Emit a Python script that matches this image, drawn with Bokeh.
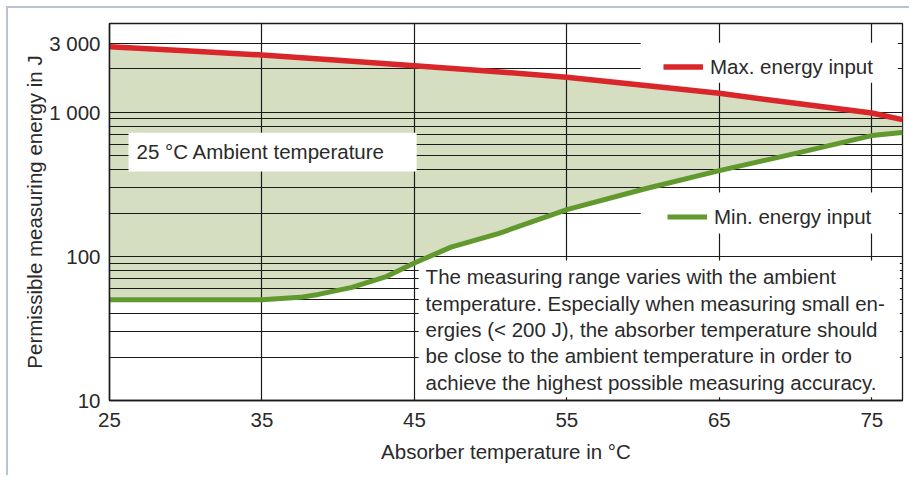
from bokeh.plotting import figure
from bokeh.models import Range1d, FixedTicker, BoxAnnotation, Label, Legend, LegendItem
from bokeh.embed import file_html
from bokeh.resources import INLINE

# ---------------- data ----------------
max_temp = [25, 30, 35, 40, 45, 50, 55, 60, 65, 70, 75, 77]
max_energy = [2850, 2680, 2500, 2300, 2110, 1930, 1750, 1540, 1355, 1155, 990, 890]

min_temp = [25, 30, 35, 37.5, 38.7, 40.9, 43.1, 45, 47.4, 50.5, 55, 60.2, 65, 70.3, 75, 77]
min_energy = [50, 50, 50, 52, 54.5, 61, 72, 90, 116, 144, 211, 296, 394, 528, 690, 725]

x_ticks = [25, 35, 45, 55, 65, 75]
y_ticks = [10, 100, 1000, 3000]
y_tick_labels = ["10", "100", "1 000", "3 000"]
y_minor_grid = [20, 30, 40, 50, 60, 70, 80, 90, 200, 300, 400, 500, 600, 700, 800, 900, 2000]

note_lines = [
    "The measuring range varies with the ambient",
    "temperature. Especially when measuring small en-",
    "ergies (< 200 J), the absorber temperature should",
    "be close to the ambient temperature in order to",
    "achieve the highest possible measuring accuracy.",
]

# ---------------- styling ----------------
FONT = "Liberation Sans"
FS = "20.5px"
TXT = "#2a2a2a"
GRID = "#1a1a1a"
RED = "#d9262b"
GREEN = "#61992f"
FILL = "#d5dec1"

# helpers: reference pixel -> data coordinate (frame geometry of the reference)
def dx(px):
    return 25 + (px - 109) / 15.24

def dy(px):
    return 10 ** (1 + (400.3 - px) / 144.3)

p = figure(width=903, height=469,
           x_range=Range1d(25, dx(901.7)), y_range=Range1d(10, dy(22.7)),
           y_axis_type="log", output_backend="svg", toolbar_location=None,
           min_border_left=101, min_border_right=9, min_border_top=15, min_border_bottom=77,
           background_fill_color="white", border_fill_color="white")
p.styles = {"position": "relative", "left": "8px", "top": "8px",
            "box-shadow": "-2px -2px 0 0 #b9c3d4"}

xt = FixedTicker(ticks=x_ticks)
yt = FixedTicker(ticks=y_ticks, minor_ticks=y_minor_grid)
p.xaxis.ticker = xt
p.xgrid.ticker = xt
p.yaxis.ticker = yt
p.ygrid.ticker = yt
p.yaxis.major_label_overrides = dict(zip(y_ticks, y_tick_labels))

p.grid.grid_line_color = GRID
p.grid.grid_line_width = 1.2
p.ygrid.minor_grid_line_color = GRID
p.ygrid.minor_grid_line_width = 1.2
p.grid.level = "underlay"

p.outline_line_color = GRID
p.outline_line_width = 1.3

for ax in (p.xaxis, p.yaxis):
    ax.axis_line_color = GRID
    ax.axis_line_width = 1.5
    ax.major_tick_line_color = None
    ax.minor_tick_line_color = None
    ax.major_label_text_font = FONT
    ax.major_label_text_font_size = FS
    ax.major_label_text_color = TXT
    ax.axis_label_text_font = FONT
    ax.axis_label_text_font_size = FS
    ax.axis_label_text_color = TXT
    ax.axis_label_text_font_style = "normal"

p.xaxis.axis_label = "Absorber temperature in °C"
p.yaxis.axis_label = "Permissible measuring energy in J"
p.xaxis.major_label_standoff = 6
p.yaxis.major_label_standoff = 3
p.xaxis.axis_label_standoff = 10
p.yaxis.axis_label_standoff = 0

# permissible range (filled area between the two curves)
p.patch(max_temp + min_temp[::-1], max_energy + min_energy[::-1],
        fill_color=FILL, line_color=None, level="image")

# white boxes behind the texts
for (l, r, t, b) in [(128, 416, 132, 171), (640, 897, 42, 82), (640, 898, 192, 233), (418, 899, 260, 397)]:
    p.add_layout(BoxAnnotation(left=dx(l), right=dx(r), top=dy(t), bottom=dy(b),
                               fill_color="white", fill_alpha=1, line_color=None, level="glyph"))

red = p.line(max_temp, max_energy, line_color=RED, line_width=5.5, line_join="round", level="guide")
green = p.line(min_temp, min_energy, line_color=GREEN, line_width=5, line_join="round", level="guide")

def make_legend(label, rend, loc):
    return Legend(items=[LegendItem(label=label, renderers=[rend])], location=loc,
                  glyph_width=40, glyph_height=33, label_height=24, label_standoff=7,
                  padding=0, margin=0, spacing=0, border_line_color=None,
                  background_fill_alpha=0, label_text_font=FONT, label_text_font_size=FS,
                  label_text_color=TXT)

p.add_layout(make_legend("Max. energy input", red, (554, 317)))
p.add_layout(make_legend("Min. energy input", green, (558, 167)))

p.add_layout(Label(x=dx(136), y=dy(151), text="25 °C Ambient temperature",
                   text_baseline="middle", text_font=FONT, text_font_size=FS, text_color=TXT))

for line, base in zip(note_lines, [283.3, 309.7, 336, 362.7, 389]):
    p.add_layout(Label(x=dx(425), y=dy(base - 7), text=line, text_baseline="middle",
                       text_font=FONT, text_font_size=FS, text_color=TXT))

open("out.html", "w").write(file_html(p, INLINE))
